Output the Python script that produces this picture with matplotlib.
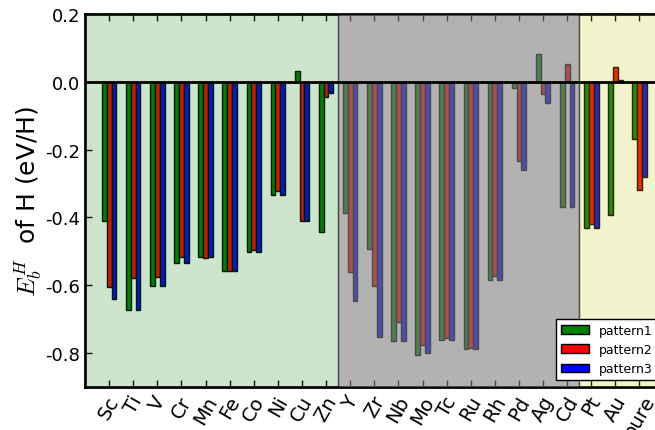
import numpy as np
import matplotlib
matplotlib.use('Agg')
from matplotlib import pyplot as plt

plt.rcParams['mathtext.fontset'] = 'cm'

# dopant elements on the x axis
elements = ['Sc', 'Ti', 'V', 'Cr', 'Mn', 'Fe', 'Co', 'Ni', 'Cu', 'Zn',
            'Y', 'Zr', 'Nb', 'Mo', 'Tc', 'Ru', 'Rh', 'Pd', 'Ag', 'Cd',
            'Pt', 'Au', 'pure']

# binding energy of H in eV/H
pattern1 = [-0.411, -0.675, -0.604, -0.534, -0.517, -0.559, -0.502, -0.333, 0.032, -0.443,
            -0.388, -0.494, -0.766, -0.806, -0.761, -0.788, -0.584, -0.019, 0.083, -0.370,
            -0.432, -0.394, -0.168]
pattern2 = [-0.606, -0.580, -0.577, -0.517, -0.520, -0.559, -0.497, -0.323, -0.411, -0.045,
            -0.560, -0.604, -0.709, -0.778, -0.755, -0.786, -0.574, -0.234, -0.035, 0.051,
            -0.421, 0.045, -0.319]
pattern3 = [-0.640, -0.675, -0.604, -0.534, -0.517, -0.559, -0.502, -0.333, -0.411, -0.034,
            -0.648, -0.753, -0.766, -0.802, -0.761, -0.788, -0.584, -0.260, -0.064, -0.370,
            -0.432, 0.005, -0.280]

x = np.arange(len(elements))
width = 0.2

fig = plt.figure(figsize=(6.55, 4.31), dpi=100)
# axes run a bit past the right edge of the picture, as in the original
ax = fig.add_axes([85/655., (431-387.7)/431., (663.6-85)/655., (387.7-15)/431.])

ax.bar(x - width, pattern1, width, color='g', edgecolor='k', linewidth=1, label='pattern1')
ax.bar(x, pattern2, width, color='r', edgecolor='k', linewidth=1, label='pattern2')
ax.bar(x + width, pattern3, width, color='b', edgecolor='k', linewidth=1, label='pattern3')

# shaded blocks for 3d, 4d and 5d dopants (drawn over the bars)
ax.axvspan(-1, 9.5, facecolor='g', edgecolor='k', alpha=0.2, zorder=3)
ax.axvspan(9.5, 19.5, facecolor='gray', edgecolor='k', alpha=0.6, zorder=3)
ax.axvspan(19.5, 23, facecolor='y', edgecolor='k', alpha=0.2, zorder=3)

ax.axhline(0, color='k', linewidth=2, zorder=4)

ax.set_xlim(-1, 23)
ax.set_ylim(-0.9, 0.2)
ax.set_xticks(x)
ax.set_xticklabels(elements, rotation=60, ha='center', fontsize=14)
ax.set_yticks([-0.8, -0.6, -0.4, -0.2, 0.0, 0.2])
ax.set_yticklabels(['-0.8', '-0.6', '-0.4', '-0.2', '0.0', '0.2'], fontsize=13)
ax.tick_params(direction='in', top=True, right=True, length=5, width=1)
ax.tick_params(axis='x', pad=4)
for s in ax.spines.values():
    s.set_linewidth(2)
ax.set_ylabel(r'$E_b^H$  of H (eV/H)', fontsize=18, labelpad=0)

leg = ax.legend(loc='lower right', fontsize=9, handlelength=2.2, fancybox=False, framealpha=1)
leg.get_frame().set_edgecolor('k')
leg.set_zorder(10)

fig.savefig('out.png', dpi=100)
